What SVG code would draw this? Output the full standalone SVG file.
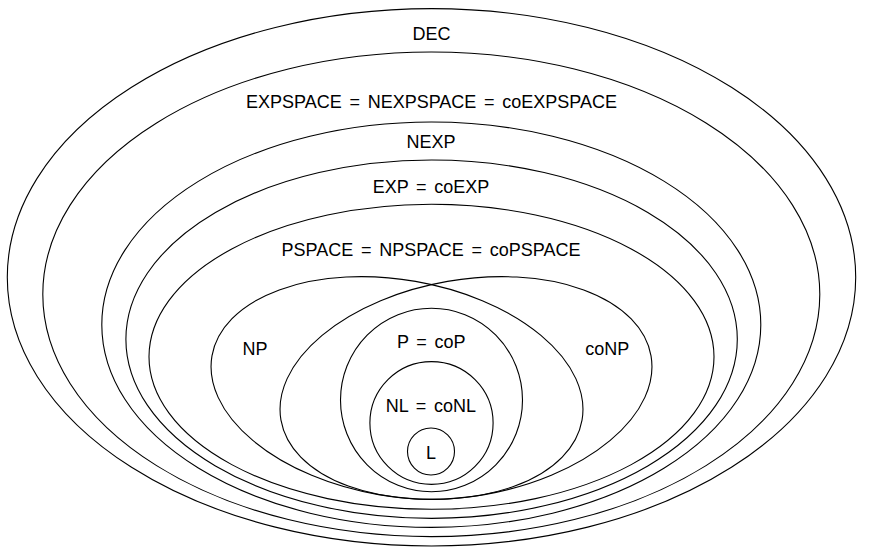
<svg xmlns="http://www.w3.org/2000/svg" width="873" height="560" viewBox="0 0 873 560">
<style>
.s{fill:none;stroke:#000;stroke-width:1.1}
text{font-family:"Liberation Sans",Arial,sans-serif;font-size:18px;fill:#000;text-anchor:middle;word-spacing:2.7px}
</style>
<rect width="873" height="560" fill="#fff"/>
<g id="DEC"><ellipse class="s" cx="431.5" cy="277.3" rx="424.2" ry="268.7"/><text x="431.5" y="40">DEC</text></g>
<g id="EXPSPACE"><ellipse class="s" cx="431.3" cy="294.3" rx="388.5" ry="242.3"/><text x="431.5" y="108.3">EXPSPACE = NEXPSPACE = coEXPSPACE</text></g>
<g id="NEXP"><ellipse class="s" cx="431.3" cy="324.7" rx="329.5" ry="202.7"/><text x="431" y="147.7">NEXP</text></g>
<g id="EXP"><ellipse class="s" cx="431.6" cy="339.2" rx="305.7" ry="179.2"/><text x="431" y="193.3">EXP = coEXP</text></g>
<g id="PSPACE"><ellipse class="s" cx="431.5" cy="356.8" rx="282.5" ry="152.5"/><text x="431" y="256">PSPACE = NPSPACE = coPSPACE</text></g>
<g id="NP"><ellipse class="s" cx="397" cy="388" rx="187.8" ry="108.2" transform="rotate(9.85 397 388)"/><text x="255" y="355">NP</text></g>
<g id="coNP"><ellipse class="s" cx="466" cy="388" rx="187.8" ry="108.2" transform="rotate(-9.85 466 388)"/><text x="607.3" y="355">coNP</text></g>
<g id="P"><ellipse class="s" cx="431.5" cy="400" rx="91" ry="91.8"/><text x="431.3" y="347.7">P = coP</text></g>
<g id="NL"><ellipse class="s" cx="431.5" cy="423" rx="61.6" ry="61.4"/><text x="430.8" y="412.3">NL = coNL</text></g>
<g id="L"><circle class="s" cx="431" cy="451.5" r="23.5"/><text x="431" y="459">L</text></g>
<g id="connectors"/>
</svg>
